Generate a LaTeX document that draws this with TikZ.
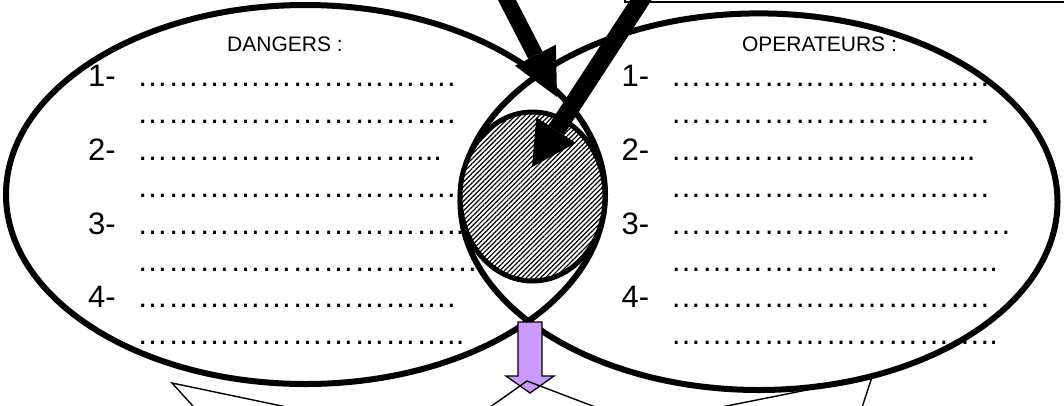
\documentclass[tikz,border=0pt]{standalone}
\usepackage{fontspec}
\setmainfont{Liberation Sans}
\usetikzlibrary{arrows.meta,patterns.meta}
\definecolor{lilac}{RGB}{204,153,255}
\newcommand{\de}{\char"2026}
\newcommand{\dten}{\de\de\de\de\de\de\de\de\de\de}
\newcommand{\dnine}{\de\de\de\de\de\de\de\de\de}
\begin{document}
\begin{tikzpicture}[x=1pt,y=-1pt,
  bigell/.style={line width=6pt},
  lbl/.style={inner sep=0pt, anchor=base, font=\fontsize{21}{25}\selectfont},
  num/.style={inner sep=0pt, anchor=base west, font=\fontsize{31}{37}\selectfont},
  thinline/.style={line width=1.4pt},
  bigarrow/.style={line width=#1, draw=black}]
\useasboundingbox (0,0) rectangle (1064,405);
\clip (0,0) rectangle (1064,405);

% headings
\node[lbl] (dangers) at (285,51) {DANGERS :};
\node[lbl] (operateurs) at (819.5,51.5) {OPERATEURS :};

% left list
\node[num] (l1) at (88,86.5) {1-};
\node[num] (l2) at (88,160.5) {2-};
\node[num] (l3) at (88,234.5) {3-};
\node[num] (l4) at (88,307.5) {4-};
\node[num] (ld1) at (137,86) {\dten.};
\node[num] (ld2) at (137,123) {\dten.};
\node[num] (ld3) at (137,160.5) {\dnine...};
\node[num] (ld4) at (137,197.5) {\dten..};
\node[num] (ld5) at (137,234.5) {\dten..};
\node[num] (ld6) at (137,271.5) {\dten\de};
\node[num] (ld7) at (137,307.5) {\dten.};
\node[num] (ld8) at (137,344.5) {\dten..};

% right list
\node[num] (r1) at (621.5,86.5) {1-};
\node[num] (r2) at (621.5,160.5) {2-};
\node[num] (r3) at (621.5,234.5) {3-};
\node[num] (r4) at (621.5,307.5) {4-};
\node[num] (rd1) at (670.5,86.5) {\dten.};
\node[num] (rd2) at (670.5,123.5) {\dten.};
\node[num] (rd3) at (670.5,160.5) {\dnine...};
\node[num] (rd4) at (670.5,197.5) {\dten.};
\node[num] (rd5) at (670.5,234.5) {\dten\de};
\node[num] (rd6) at (670.5,271.5) {\dten..};
\node[num] (rd7) at (670.5,307.5) {\dten.};
\node[num] (rd8) at (670.5,344.5) {\dten..};

% big ellipses
\draw[bigell] (305.5,194.5) ellipse [x radius=299.5pt, y radius=189.5pt];
\draw[bigell] (759,201.7) ellipse [x radius=298.5pt, y radius=188.3pt];

% hatched intersection
\draw[line width=5pt, preaction={fill=white},
  pattern={Lines[angle=45,distance=3.4pt,line width=1.2pt]}]
  (532.5,196.5) ellipse [x radius=72.5pt, y radius=84.5pt];

% box edge at top right
\draw[line width=2pt] (625,-30) rectangle (1080,1.5);

% big black arrows
\coordinate (a1s) at (476,-60);
\coordinate (a1e) at (557,97);
\coordinate (a2s) at (680,-60);
\coordinate (a2e) at (532,167);
\draw[bigarrow=16pt, -{Triangle[length=47pt,width=46pt,line width=0pt]}] (a1s) -- (a1e);
\draw[bigarrow=18pt, -{Triangle[length=44pt,width=47pt,line width=0pt]}] (a2s) -- (a2e);

% purple block arrow
\draw[line width=1.3pt, fill=lilac, line join=miter]
  (518,322) -- (542,322) -- (542,376) -- (554,376) -- (530,393)
  -- (506,376) -- (518,376) -- cycle;

% callout pointers
\coordinate (c1) at (172,383);
\coordinate (c2) at (527,381);
\coordinate (c3) at (872,377);
\draw[thinline] (205.6,420) -- (c1) -- (348.6,420);
\draw[thinline] (471.7,420) -- (c2) -- (629.4,420);
\draw[thinline] (857.9,420) -- (c3) -- (656.5,420);
\end{tikzpicture}
\end{document}
